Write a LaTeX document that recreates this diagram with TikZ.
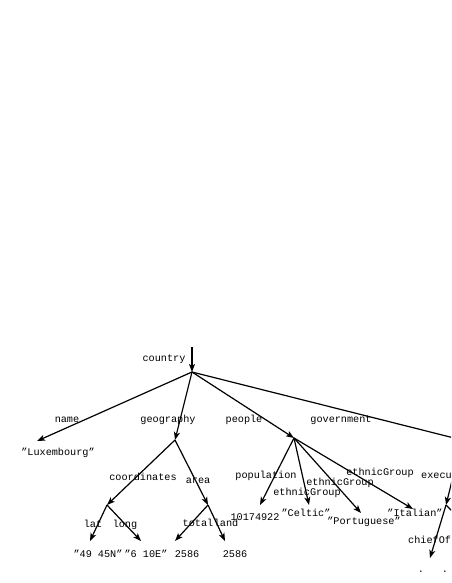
\documentclass[tikz,border=0pt]{standalone}
\usepackage{fontspec}
\setmainfont{Liberation Mono}[Ligatures=ResetAll]
\usetikzlibrary{arrows.meta}
\newcommand{\qq}{\symbol{34}}
\tikzset{
  edge/.style={line width=1.2pt,-{Stealth[length=8pt,width=6pt,inset=2pt]}},
  lbl/.style={inner sep=0pt,anchor=base,font=\fontsize{10.2}{12}\selectfont},
  lblw/.style={lbl,anchor=base west}
}
\begin{document}
\begin{tikzpicture}[x=1pt,y=-1pt]
\useasboundingbox (0,0) rectangle (451,583);
\clip (0,0) rectangle (451,583);
% points of the tree
\coordinate (top) at (192,347);
\coordinate (root) at (192,372);
\coordinate (nm) at (37,441);
\coordinate (geo) at (175,440);
\coordinate (peo) at (294,438);
\coordinate (gov) at (462,440);
\coordinate (coo) at (107,505);
\coordinate (area) at (208,505);
\coordinate (lat) at (90,541);
\coordinate (long) at (141,541);
\coordinate (tot) at (175,541);
\coordinate (land) at (225,541);
\coordinate (pop) at (260,505);
\coordinate (celt) at (309,505);
\coordinate (port) at (361,513);
\coordinate (ital) at (413,509);
\coordinate (exec) at (446,505);
\coordinate (exo) at (476,535);
\coordinate (chief) at (430,558);
% edges
\draw[edge] (top) -- (root);
\draw[edge] (root) -- (nm);
\draw[edge] (root) -- (geo);
\draw[edge] (root) -- (peo);
\draw[edge] (root) -- (gov);
\draw[edge] (geo) -- (coo);
\draw[edge] (geo) -- (area);
\draw[edge] (coo) -- (lat);
\draw[edge] (coo) -- (long);
\draw[edge] (area) -- (tot);
\draw[edge] (area) -- (land);
\draw[edge] (peo) -- (pop);
\draw[edge] (peo) -- (celt);
\draw[edge] (peo) -- (port);
\draw[edge] (peo) -- (ital);
\draw[edge] (gov) -- (exec);
\draw[edge] (exec) -- (exo);
\draw[edge] (exec) -- (chief);
% labels
\node[lbl] (tcountry) at (164,361) {country};
\node[lbl] (tname) at (67,422) {name};
\node[lbl] (tgeo) at (168,422) {geography};
\node[lbl] (tpeo) at (244,422) {people};
\node[lbl] (tgov) at (341,422) {government};
\node[lbl] (vlux) at (58,455) {\qq Luxembourg\qq};
\node[lbl] (tcoo) at (143,480) {coordinates};
\node[lbl] (tarea) at (198,483) {area};
\node[lbl] (tlat) at (93,527) {lat};
\node[lbl] (tlong) at (125,527) {long};
\node[lbl] (ttot) at (198,526) {total};
\node[lbl] (tland) at (226,526) {land};
\node[lbl] (vlat) at (98,557) {\qq 49 45N\qq};
\node[lbl] (vlong) at (146,557) {\qq 6 10E\qq};
\node[lbl] (vtot) at (187,557) {2586};
\node[lbl] (vland) at (235,557) {2586};
\node[lbl] (tpop) at (266,478) {population};
\node[lbl] (te1) at (307,495) {ethnicGroup};
\node[lbl] (te2) at (340,485) {ethnicGroup};
\node[lbl] (te3) at (380,475) {ethnicGroup};
\node[lbl] (vpop) at (255,520) {10174922};
\node[lbl] (vcelt) at (306,516) {\qq Celtic\qq};
\node[lbl] (vport) at (364,524) {\qq Portuguese\qq};
\node[lbl] (vital) at (415,516) {\qq Italian\qq};
\node[lblw] (texec) at (421,478) {execu};
\node[lblw] (tchief) at (408,543) {chiefOf};
\node[lbl] (d1) at (421,572) {.};
\node[lbl] (d2) at (445,572) {.};
\end{tikzpicture}
\end{document}
